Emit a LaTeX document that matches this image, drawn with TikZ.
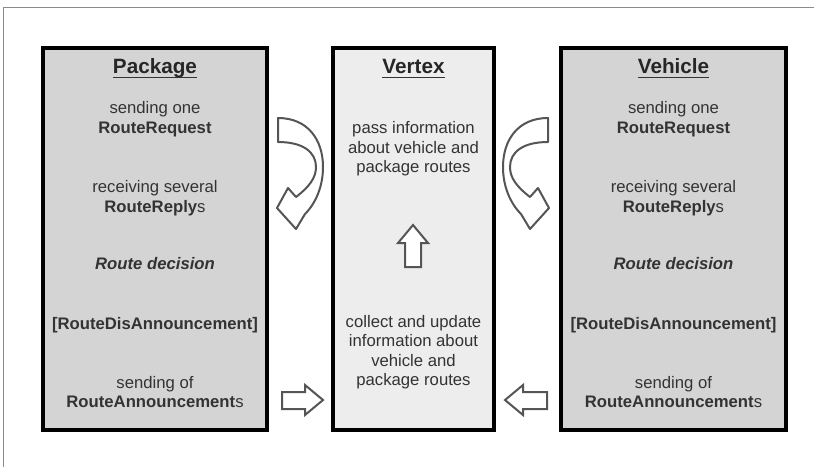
\documentclass[tikz,border=0pt]{standalone}
\usepackage{fontspec}
\setmainfont{Liberation Sans}
\definecolor{pkfill}{HTML}{D4D4D4}
\definecolor{vxfill}{HTML}{EDEDED}
\definecolor{txtcol}{HTML}{333333}
\definecolor{arrcol}{HTML}{555555}
\definecolor{framecol}{HTML}{8A8A8A}
\begin{document}
\begin{tikzpicture}[x=1pt,y=-1pt,
  boxshape/.style={draw=black, line width=3.5pt, fill=pkfill, inner sep=0pt},
  txt/.style={align=center, text=txtcol, font=\fontsize{16.7}{19.5}\selectfont, inner sep=0pt},
  ttl/.style={text=black!85, font=\fontsize{20.7}{24}\selectfont\bfseries, inner sep=0pt, anchor=base},
  blk/.style={draw=arrcol, line width=2pt, fill=white, line join=miter},
  uline/.style={line width=1.8pt, draw=black!80}]
\useasboundingbox (0,0) rectangle (814,467);
% frame lines
\draw[framecol, line width=1pt] (3,467) -- (3,7) -- (814,7);
% boxes
\node[boxshape, minimum width=224pt, minimum height=382pt] (pkg) at (155,239) {};
\node[boxshape, fill=vxfill, minimum width=161pt, minimum height=382pt] (vtx) at (413.5,239) {};
\node[boxshape, minimum width=225pt, minimum height=382pt] (veh) at (673.5,239) {};
% titles
\node[ttl] (pkgT) at (155,73) {Package};
\node[ttl] (vtxT) at (413.5,73) {Vertex};
\node[ttl] (vehT) at (673.5,73) {Vehicle};
\foreach \t in {pkgT,vtxT,vehT}
  \draw[uline] ([yshift=-4.5pt]\t.base west) -- ([yshift=-4.5pt]\t.base east);
% package texts
\node[txt] (p1) at (155,119) {sending one\\\textbf{RouteRequest}};
\node[txt] (p2) at (155,198) {receiving several\\\textbf{RouteReply}s};
\node[txt] (p3) at (155,264) {\textbf{\itshape Route decision}};
\node[txt] (p4) at (155,325) {\textbf{[RouteDisAnnouncement]}};
\node[txt] (p5) at (155,392) {sending of\\\textbf{RouteAnnouncement}s};
% vehicle texts
\node[txt] (v1) at (673.5,119) {sending one\\\textbf{RouteRequest}};
\node[txt] (v2) at (673.5,198) {receiving several\\\textbf{RouteReply}s};
\node[txt] (v3) at (673.5,264) {\textbf{\itshape Route decision}};
\node[txt] (v4) at (673.5,325) {\textbf{[RouteDisAnnouncement]}};
\node[txt] (v5) at (673.5,392) {sending of\\\textbf{RouteAnnouncement}s};
% vertex texts
\node[txt] (x1) at (413.5,149) {pass information\\about vehicle and\\package routes};
\node[txt] (x2) at (413.5,352) {collect and update\\information about\\vehicle and\\package routes};
% up arrow
\draw[blk] (405,267) -- (405,243) -- (398,243) -- (413,225) -- (428,243) -- (421,243) -- (421,267) -- cycle;
% bottom block arrows
\draw[blk] (282,392) -- (305,392) -- (305,385) -- (323,400) -- (305,415) -- (305,409) -- (282,409) -- cycle;
\draw[blk] (547,392) -- (523,392) -- (523,385) -- (505,400) -- (523,415) -- (523,409) -- (547,409) -- cycle;
% curved arrows
\foreach \sc/\sh in {1/0,-1/826}{
\begin{scope}[shift={(\sh,0)}, xscale=\sc]
\draw[blk, line join=round]
  (278,118) .. controls (308,118) and (323,140) .. (323,167)
  .. controls (323,186) and (316,203) .. (305,214)
  -- (296,229) -- (277,208) -- (288,188) -- (296,197)
  .. controls (309,187) and (316,178) .. (316,167)
  .. controls (316,152) and (303,142) .. (278,142) -- cycle;
\end{scope}}
\end{tikzpicture}
\end{document}
